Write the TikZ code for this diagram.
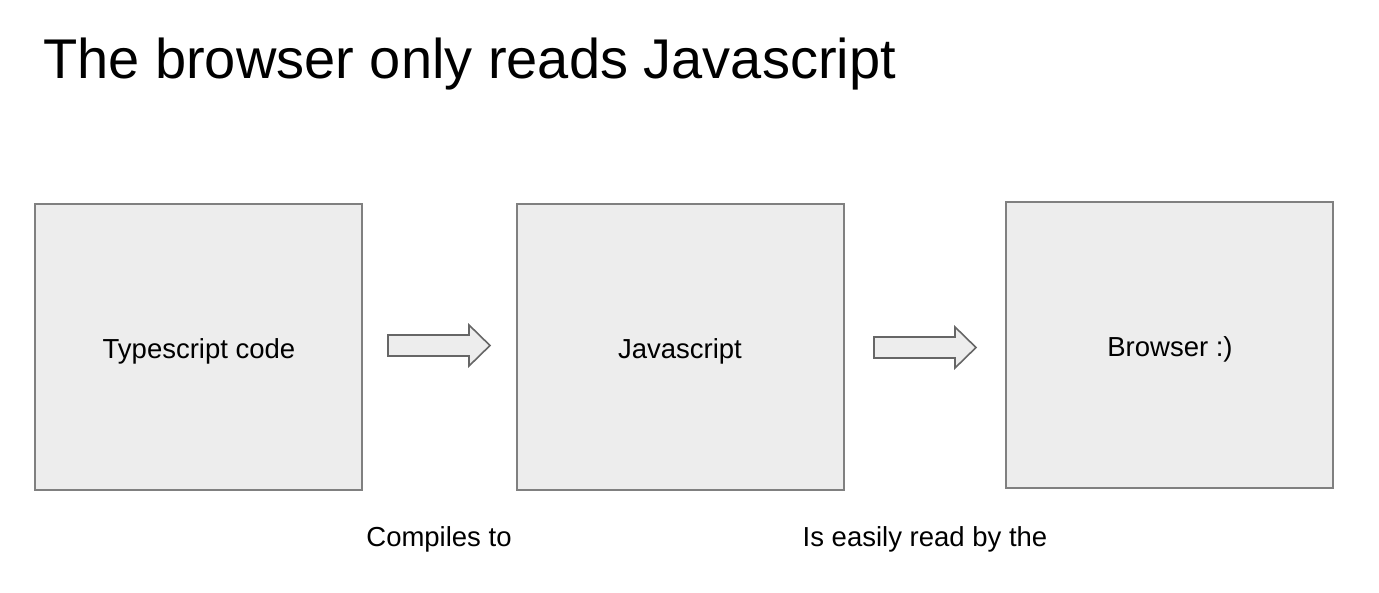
\documentclass[tikz,border=0pt]{standalone}
\usepackage{fontspec}
\setmainfont{Liberation Sans}
\begin{document}
\begin{tikzpicture}[x=1pt,y=-1pt,
  box/.style={draw=black!50,fill=black!7,line width=1.3pt},
  blockarrow/.style={draw=black!60,fill=black!7,line width=1.6pt,line join=miter},
  lbl/.style={inner sep=0pt,font=\fontsize{27.5}{30}\selectfont,anchor=base},
  ttl/.style={inner sep=0pt,font=\fontsize{56}{62}\selectfont,anchor=base west}]
\useasboundingbox (0,0) rectangle (1379,593);
\node[ttl] (title) at (43,79) {The browser only reads Javascript};
\draw[box] (35,204) rectangle (362,490);
\draw[box] (517,204) rectangle (844,490);
\draw[box] (1006,202) rectangle (1333,488);
\node[lbl] (t1) at (199,359) {Typescript code};
\node[lbl] (t2) at (680,359) {Javascript};
\node[lbl] (t3) at (1170,357) {Browser :)};
\draw[blockarrow] (388,335) -- (469,335) -- (469,325) -- (490,345.5) -- (469,366) -- (469,356) -- (388,356) -- cycle;
\draw[blockarrow] (874,337) -- (955,337) -- (955,327) -- (976,347.5) -- (955,368) -- (955,358) -- (874,358) -- cycle;
\node[lbl] (c1) at (439,546) {Compiles to};
\node[lbl] (c2) at (925,546) {Is easily read by the};
\end{tikzpicture}
\end{document}
